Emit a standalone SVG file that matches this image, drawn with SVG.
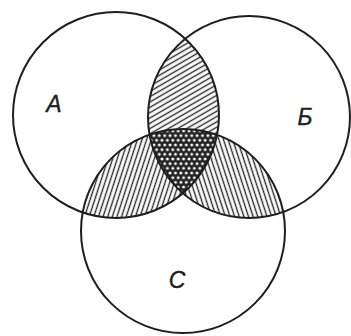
<svg xmlns="http://www.w3.org/2000/svg" width="351" height="336" viewBox="0 0 351 336">
  <style>
    .outline { fill: none; stroke: #1e1e1e; stroke-width: 2; }
    .label { font-family: "Liberation Sans", Arial, sans-serif; font-style: italic; font-size: 23px; fill: #1e1e1e; stroke: #1e1e1e; stroke-width: 0.4; text-anchor: middle; }
  </style>
  <defs>
    <clipPath id="clipA"><circle cx="116" cy="115" r="103"/></clipPath>
    <clipPath id="clipB"><circle cx="249" cy="117" r="101"/></clipPath>
    <pattern id="hatchTop" patternUnits="userSpaceOnUse" width="10" height="4.6" patternTransform="rotate(-30)">
      <line x1="0" y1="2.3" x2="10" y2="2.3" stroke="#2a2a2a" stroke-width="1.4"/>
    </pattern>
    <pattern id="hatchLeft" patternUnits="userSpaceOnUse" width="4.4" height="10" patternTransform="rotate(18)">
      <line x1="2.2" y1="0" x2="2.2" y2="10" stroke="#2a2a2a" stroke-width="1.4"/>
    </pattern>
    <pattern id="hatchRight" patternUnits="userSpaceOnUse" width="4.4" height="10" patternTransform="rotate(-18)">
      <line x1="2.2" y1="0" x2="2.2" y2="10" stroke="#2a2a2a" stroke-width="1.4"/>
    </pattern>
    <pattern id="dots" patternUnits="userSpaceOnUse" width="5.4" height="9.35">
      <rect width="5.4" height="9.35" fill="#222"/>
      <circle cx="0" cy="0" r="1.5" fill="#fff"/>
      <circle cx="5.4" cy="0" r="1.5" fill="#fff"/>
      <circle cx="2.7" cy="4.675" r="1.5" fill="#fff"/>
      <circle cx="0" cy="9.35" r="1.5" fill="#fff"/>
      <circle cx="5.4" cy="9.35" r="1.5" fill="#fff"/>
    </pattern>
  </defs>
  <rect width="351" height="336" fill="#fff"/>

  <g id="regions">
    <g clip-path="url(#clipA)"><circle cx="249" cy="117" r="101" fill="url(#hatchTop)"/></g>
    <g clip-path="url(#clipA)"><circle cx="183" cy="231" r="102" fill="url(#hatchLeft)"/></g>
    <g clip-path="url(#clipB)"><circle cx="183" cy="231" r="102" fill="url(#hatchRight)"/></g>
    <g clip-path="url(#clipA)"><g clip-path="url(#clipB)"><circle cx="183" cy="231" r="102" fill="url(#dots)"/></g></g>
  </g>

  <g id="nodeA">
    <circle class="outline" cx="116" cy="115" r="103"/>
    <text class="label" x="54" y="112">A</text>
  </g>
  <g id="nodeB">
    <circle class="outline" cx="249" cy="117" r="101"/>
    <text class="label" x="305" y="125">Б</text>
  </g>
  <g id="nodeC">
    <circle class="outline" cx="183" cy="231" r="102"/>
    <text class="label" x="177" y="288">C</text>
  </g>
  <g id="connectors"/>
</svg>
